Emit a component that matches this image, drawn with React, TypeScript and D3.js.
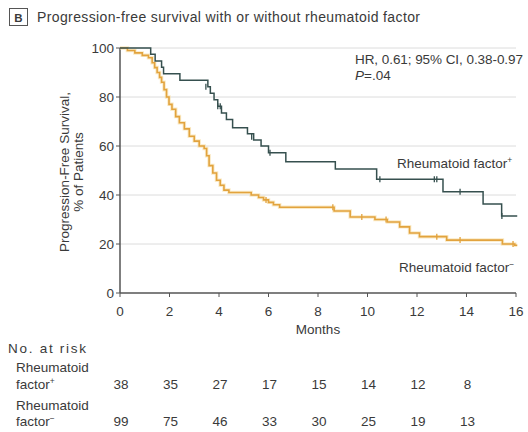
import React from "react";
import * as d3 from "d3";

const monthTicks = [0, 2, 4, 6, 8, 10, 12, 14, 16];
const pctTicks = [0, 20, 40, 60, 80, 100];

// Kaplan-Meier steps: [month, survival %]
const rfPosSteps: [number, number][] = [
  [0, 100], [1.24, 97.4], [1.42, 94.7], [1.68, 92.1], [1.76, 89.5], [2.42, 86.8],
  [3.55, 84.2], [3.65, 81.5], [3.8, 78.9], [3.95, 76.2], [4.1, 73.5], [4.3, 70.8],
  [4.55, 67.5], [5.15, 65.0], [5.4, 62.5], [5.7, 60.0], [6.0, 57.2], [6.7, 53.6],
  [8.7, 50.6], [10.37, 46.4], [13.05, 41.3], [14.67, 36.3], [15.42, 31.4], [16.05, 31.4],
];
const rfPosCensor: [number, number][] = [
  [3.47, 84.2], [3.95, 76.2], [4.05, 76.2], [5.32, 63.8], [6.06, 57.2],
  [10.5, 46.4], [12.7, 46.4], [12.8, 46.4], [13.74, 41.3], [15.43, 31.4],
];

const rfNegSteps: [number, number][] = [
  [0, 100], [0.3, 99], [0.6, 98], [0.9, 97], [1.15, 96], [1.3, 94], [1.4, 92],
  [1.5, 90], [1.6, 88], [1.68, 86], [1.78, 83], [1.88, 80], [1.98, 77], [2.1, 75],
  [2.25, 72], [2.4, 69.5], [2.6, 67], [2.8, 64], [3.0, 62], [3.2, 60], [3.4, 59],
  [3.5, 56], [3.6, 52], [3.75, 49], [3.9, 46], [4.05, 44], [4.2, 42], [4.4, 41],
  [5.3, 40], [5.6, 39], [5.8, 38], [6.0, 37], [6.2, 36], [6.45, 35], [8.65, 33.5],
  [9.3, 31], [10.3, 30], [10.8, 29], [11.3, 27], [11.7, 24.5], [12.1, 23],
  [13.2, 21.6], [15.45, 20], [15.95, 19.5], [16.05, 19.5],
];
const rfNegCensor: [number, number][] = [
  [5.9, 38], [8.6, 35], [9.77, 31], [10.75, 30], [12.8, 23], [13.74, 21.6], [15.88, 20],
];

const riskPos = [38, 35, 27, 17, 15, 14, 12, 8];
const riskNeg = [99, 75, 46, 33, 30, 25, 19, 13];

const FONT = "'Liberation Sans', Arial, sans-serif";
const TXT = "#3a3a3a";
const POS_COLOR = "#36504f";
const NEG_COLOR = "#e2a33e";
const FS = 13.5;

export default function App() {
  const W = 528, H = 432;
  const x = d3.scaleLinear().domain([0, 16]).range([120, 516]);
  const y = d3.scaleLinear().domain([0, 100]).range([293, 48]);
  const line = d3.line<[number, number]>().x(d => x(d[0])).y(d => y(d[1])).curve(d3.curveStepAfter);

  return (
    <svg width={W} height={H} style={{ position: "absolute", left: 0, top: 0 }} fontFamily={FONT}>
      <rect width={W} height={H} fill="#fff" />
      {/* Title */}
      <rect x={9.5} y={8.5} width={18} height={17} fill="none" stroke="#555" strokeWidth={1} />
      <text x={18.5} y={21.5} textAnchor="middle" fontSize={11.5} fontWeight="bold" fill={TXT}>B</text>
      <text x={37} y={22} fontSize={14} textLength={383} lengthAdjust="spacing" fill={TXT}>Progression-free survival with or without rheumatoid factor</text>

      {/* gridlines */}
      {pctTicks.filter(t => t > 0).map(t => (
        <line key={t} x1={x(0)} x2={x(16)} y1={y(t)} y2={y(t)} stroke="#dcdcdc" strokeWidth={1} />
      ))}
      {/* axes */}
      <line x1={x(0)} x2={x(0)} y1={y(100)} y2={y(0)} stroke="#555" strokeWidth={1.5} />
      <line x1={x(0)} x2={x(16)} y1={y(0)} y2={y(0)} stroke="#555" strokeWidth={1.5} />
      {pctTicks.map(t => (
        <g key={t}>
          <line x1={x(0) - 4} x2={x(0)} y1={y(t)} y2={y(t)} stroke="#555" strokeWidth={1} />
          <text x={x(0) - 6} y={y(t) + 5} textAnchor="end" fontSize={FS} fill={TXT}>{t}</text>
        </g>
      ))}
      {monthTicks.map(t => (
        <g key={t}>
          <line x1={x(t)} x2={x(t)} y1={y(0)} y2={y(0) + 4} stroke="#555" strokeWidth={1} />
          <text x={x(t)} y={316} textAnchor="middle" fontSize={FS} fill={TXT}>{t}</text>
        </g>
      ))}
      <text x={x(8)} y={334} textAnchor="middle" fontSize={FS} fill={TXT}>Months</text>
      <text transform={`translate(69,172) rotate(-90)`} textAnchor="middle" fontSize={FS} fill={TXT}>Progression-Free Survival,</text>
      <text transform={`translate(83,172) rotate(-90)`} textAnchor="middle" fontSize={FS} fill={TXT}>% of Patients</text>

      {/* curves */}
      <path d={line(rfNegSteps) || ""} fill="none" stroke="#f6dca0" strokeWidth={3.5} opacity={0.6} />
      <path d={line(rfNegSteps) || ""} fill="none" stroke={NEG_COLOR} strokeWidth={1.6} />
      {rfNegCensor.map((c, i) => (
        <line key={i} x1={x(c[0])} x2={x(c[0])} y1={y(c[1]) - 3} y2={y(c[1]) + 3} stroke={NEG_COLOR} strokeWidth={1.3} />
      ))}
      <path d={line(rfPosSteps) || ""} fill="none" stroke={POS_COLOR} strokeWidth={1.5} />
      {rfPosCensor.map((c, i) => (
        <line key={i} x1={x(c[0])} x2={x(c[0])} y1={y(c[1]) - 3} y2={y(c[1]) + 3} stroke={POS_COLOR} strokeWidth={1.3} />
      ))}

      {/* annotations */}
      <text x={355} y={64} fontSize={FS} textLength={168} lengthAdjust="spacing" fill={TXT}>HR, 0.61; 95% CI, 0.38-0.97</text>
      <text x={355} y={80} fontSize={FS} fill={TXT}><tspan fontStyle="italic">P</tspan>=.04</text>
      <text x={397} y={168} fontSize={FS} fill={TXT}>Rheumatoid factor<tspan dy={-5} fontSize={8.5}>+</tspan></text>
      <text x={399} y={272} fontSize={FS} fill={TXT}>Rheumatoid factor<tspan dy={-5} fontSize={8.5}>−</tspan></text>

      {/* number at risk */}
      <text x={8} y={353} fontSize={FS} textLength={78} lengthAdjust="spacing" fill={TXT}>No. at risk</text>
      <text x={16} y={372} fontSize={FS} fill={TXT}>Rheumatoid</text>
      <text x={16} y={389} fontSize={FS} fill={TXT}>factor<tspan dy={-5} fontSize={8.5}>+</tspan></text>
      <text x={16} y={410} fontSize={FS} fill={TXT}>Rheumatoid</text>
      <text x={16} y={426} fontSize={FS} fill={TXT}>factor<tspan dy={-5} fontSize={8.5}>−</tspan></text>
      {riskPos.map((v, i) => (
        <text key={i} x={x(monthTicks[i]) + 1} y={389} textAnchor="middle" fontSize={FS} fill={TXT}>{v}</text>
      ))}
      {riskNeg.map((v, i) => (
        <text key={i} x={x(monthTicks[i]) + 1} y={426} textAnchor="middle" fontSize={FS} fill={TXT}>{v}</text>
      ))}
    </svg>
  );
}
